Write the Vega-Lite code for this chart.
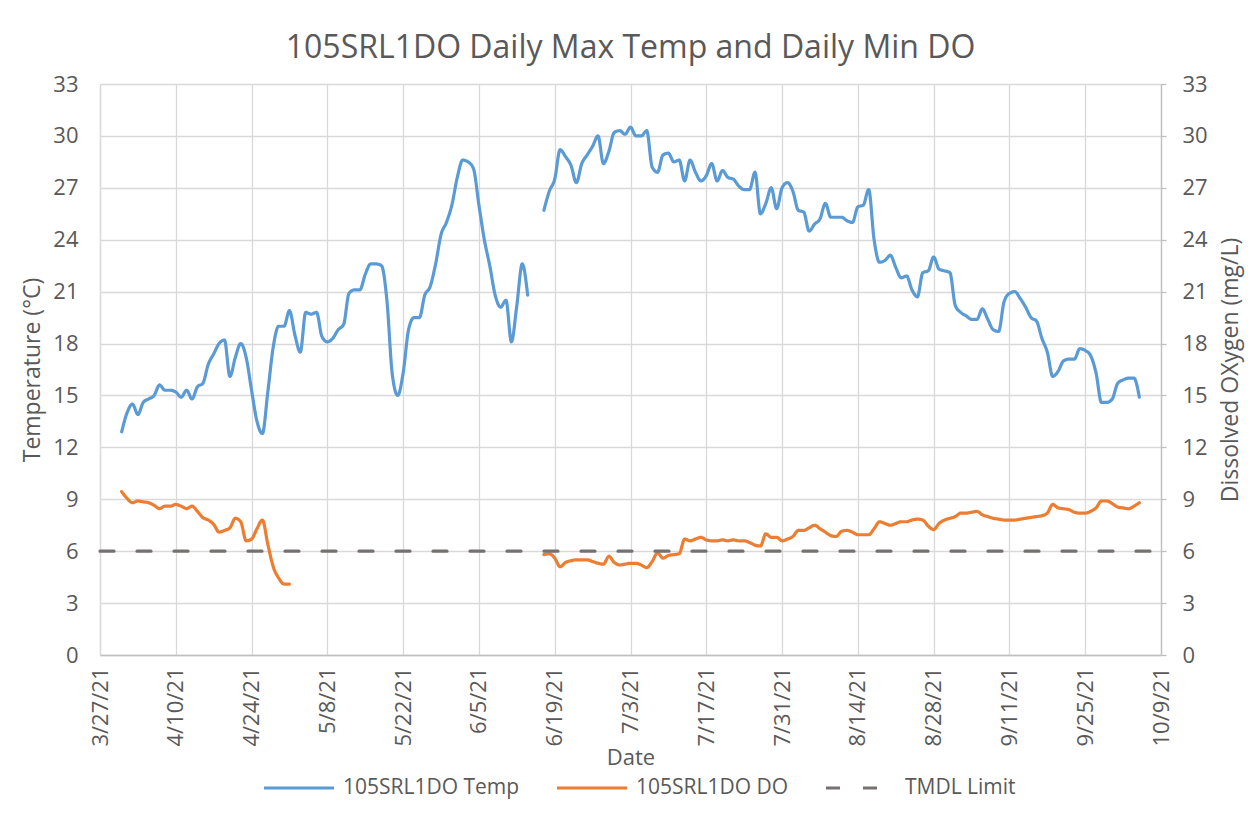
{
  "$schema": "https://vega.github.io/schema/vega-lite/v6.json",
  "width": 1061,
  "height": 571,
  "autosize": {"type": "none"},
  "padding": {"left": 100, "top": 84, "right": 92, "bottom": 161},
  "background": "white",
  "config": {"view": {"stroke": null}, "font": "Open Sans"},
  "title": {"text": "105SRL1DO Daily Max Temp and Daily Min DO", "fontSize": 32, "font": "Open Sans", "fontWeight": "normal", "color": "#595959", "offset": 8, "anchor": "middle"},
  "data": {"values": [
    {"date":"2021-03-31","series":"105SRL1DO Temp","value":12.9},
    {"date":"2021-04-01","series":"105SRL1DO Temp","value":14.0},
    {"date":"2021-04-02","series":"105SRL1DO Temp","value":14.5},
    {"date":"2021-04-03","series":"105SRL1DO Temp","value":13.9},
    {"date":"2021-04-04","series":"105SRL1DO Temp","value":14.6},
    {"date":"2021-04-05","series":"105SRL1DO Temp","value":14.8},
    {"date":"2021-04-06","series":"105SRL1DO Temp","value":15.0},
    {"date":"2021-04-07","series":"105SRL1DO Temp","value":15.6},
    {"date":"2021-04-08","series":"105SRL1DO Temp","value":15.3},
    {"date":"2021-04-09","series":"105SRL1DO Temp","value":15.3},
    {"date":"2021-04-10","series":"105SRL1DO Temp","value":15.2},
    {"date":"2021-04-11","series":"105SRL1DO Temp","value":14.9},
    {"date":"2021-04-12","series":"105SRL1DO Temp","value":15.3},
    {"date":"2021-04-13","series":"105SRL1DO Temp","value":14.8},
    {"date":"2021-04-14","series":"105SRL1DO Temp","value":15.5},
    {"date":"2021-04-15","series":"105SRL1DO Temp","value":15.7},
    {"date":"2021-04-16","series":"105SRL1DO Temp","value":16.8},
    {"date":"2021-04-17","series":"105SRL1DO Temp","value":17.4},
    {"date":"2021-04-18","series":"105SRL1DO Temp","value":18.0},
    {"date":"2021-04-19","series":"105SRL1DO Temp","value":18.2},
    {"date":"2021-04-20","series":"105SRL1DO Temp","value":16.1},
    {"date":"2021-04-21","series":"105SRL1DO Temp","value":17.2},
    {"date":"2021-04-22","series":"105SRL1DO Temp","value":18.0},
    {"date":"2021-04-23","series":"105SRL1DO Temp","value":17.2},
    {"date":"2021-04-24","series":"105SRL1DO Temp","value":15.3},
    {"date":"2021-04-25","series":"105SRL1DO Temp","value":13.5},
    {"date":"2021-04-26","series":"105SRL1DO Temp","value":12.8},
    {"date":"2021-04-27","series":"105SRL1DO Temp","value":15.2},
    {"date":"2021-04-28","series":"105SRL1DO Temp","value":17.8},
    {"date":"2021-04-29","series":"105SRL1DO Temp","value":19.0},
    {"date":"2021-04-30","series":"105SRL1DO Temp","value":19.0},
    {"date":"2021-05-01","series":"105SRL1DO Temp","value":19.9},
    {"date":"2021-05-02","series":"105SRL1DO Temp","value":18.5},
    {"date":"2021-05-03","series":"105SRL1DO Temp","value":17.5},
    {"date":"2021-05-04","series":"105SRL1DO Temp","value":19.8},
    {"date":"2021-05-05","series":"105SRL1DO Temp","value":19.7},
    {"date":"2021-05-06","series":"105SRL1DO Temp","value":19.8},
    {"date":"2021-05-07","series":"105SRL1DO Temp","value":18.4},
    {"date":"2021-05-08","series":"105SRL1DO Temp","value":18.1},
    {"date":"2021-05-09","series":"105SRL1DO Temp","value":18.3},
    {"date":"2021-05-10","series":"105SRL1DO Temp","value":18.8},
    {"date":"2021-05-11","series":"105SRL1DO Temp","value":19.1},
    {"date":"2021-05-12","series":"105SRL1DO Temp","value":20.9},
    {"date":"2021-05-13","series":"105SRL1DO Temp","value":21.1},
    {"date":"2021-05-14","series":"105SRL1DO Temp","value":21.1},
    {"date":"2021-05-15","series":"105SRL1DO Temp","value":22.0},
    {"date":"2021-05-16","series":"105SRL1DO Temp","value":22.6},
    {"date":"2021-05-17","series":"105SRL1DO Temp","value":22.6},
    {"date":"2021-05-18","series":"105SRL1DO Temp","value":22.5},
    {"date":"2021-05-19","series":"105SRL1DO Temp","value":20.5},
    {"date":"2021-05-20","series":"105SRL1DO Temp","value":16.2},
    {"date":"2021-05-21","series":"105SRL1DO Temp","value":15.0},
    {"date":"2021-05-22","series":"105SRL1DO Temp","value":16.3},
    {"date":"2021-05-23","series":"105SRL1DO Temp","value":18.8},
    {"date":"2021-05-24","series":"105SRL1DO Temp","value":19.5},
    {"date":"2021-05-25","series":"105SRL1DO Temp","value":19.5},
    {"date":"2021-05-26","series":"105SRL1DO Temp","value":20.8},
    {"date":"2021-05-27","series":"105SRL1DO Temp","value":21.3},
    {"date":"2021-05-28","series":"105SRL1DO Temp","value":22.6},
    {"date":"2021-05-29","series":"105SRL1DO Temp","value":24.3},
    {"date":"2021-05-30","series":"105SRL1DO Temp","value":25.0},
    {"date":"2021-05-31","series":"105SRL1DO Temp","value":26.0},
    {"date":"2021-06-01","series":"105SRL1DO Temp","value":27.6},
    {"date":"2021-06-02","series":"105SRL1DO Temp","value":28.6},
    {"date":"2021-06-03","series":"105SRL1DO Temp","value":28.5},
    {"date":"2021-06-04","series":"105SRL1DO Temp","value":28.1},
    {"date":"2021-06-05","series":"105SRL1DO Temp","value":26.0},
    {"date":"2021-06-06","series":"105SRL1DO Temp","value":24.0},
    {"date":"2021-06-07","series":"105SRL1DO Temp","value":22.5},
    {"date":"2021-06-08","series":"105SRL1DO Temp","value":20.8},
    {"date":"2021-06-09","series":"105SRL1DO Temp","value":20.1},
    {"date":"2021-06-10","series":"105SRL1DO Temp","value":20.5},
    {"date":"2021-06-11","series":"105SRL1DO Temp","value":18.1},
    {"date":"2021-06-12","series":"105SRL1DO Temp","value":20.2},
    {"date":"2021-06-13","series":"105SRL1DO Temp","value":22.6},
    {"date":"2021-06-14","series":"105SRL1DO Temp","value":20.8},
    {"date":"2021-06-15","series":"105SRL1DO Temp","value":null},
    {"date":"2021-06-17","series":"105SRL1DO Temp","value":25.7},
    {"date":"2021-06-18","series":"105SRL1DO Temp","value":26.8},
    {"date":"2021-06-19","series":"105SRL1DO Temp","value":27.5},
    {"date":"2021-06-20","series":"105SRL1DO Temp","value":29.2},
    {"date":"2021-06-21","series":"105SRL1DO Temp","value":28.8},
    {"date":"2021-06-22","series":"105SRL1DO Temp","value":28.3},
    {"date":"2021-06-23","series":"105SRL1DO Temp","value":27.3},
    {"date":"2021-06-24","series":"105SRL1DO Temp","value":28.4},
    {"date":"2021-06-25","series":"105SRL1DO Temp","value":28.9},
    {"date":"2021-06-26","series":"105SRL1DO Temp","value":29.4},
    {"date":"2021-06-27","series":"105SRL1DO Temp","value":30.0},
    {"date":"2021-06-28","series":"105SRL1DO Temp","value":28.4},
    {"date":"2021-06-29","series":"105SRL1DO Temp","value":29.1},
    {"date":"2021-06-30","series":"105SRL1DO Temp","value":30.2},
    {"date":"2021-07-01","series":"105SRL1DO Temp","value":30.3},
    {"date":"2021-07-02","series":"105SRL1DO Temp","value":30.1},
    {"date":"2021-07-03","series":"105SRL1DO Temp","value":30.5},
    {"date":"2021-07-04","series":"105SRL1DO Temp","value":30.0},
    {"date":"2021-07-05","series":"105SRL1DO Temp","value":30.0},
    {"date":"2021-07-06","series":"105SRL1DO Temp","value":30.3},
    {"date":"2021-07-07","series":"105SRL1DO Temp","value":28.2},
    {"date":"2021-07-08","series":"105SRL1DO Temp","value":27.9},
    {"date":"2021-07-09","series":"105SRL1DO Temp","value":28.9},
    {"date":"2021-07-10","series":"105SRL1DO Temp","value":29.0},
    {"date":"2021-07-11","series":"105SRL1DO Temp","value":28.5},
    {"date":"2021-07-12","series":"105SRL1DO Temp","value":28.6},
    {"date":"2021-07-13","series":"105SRL1DO Temp","value":27.4},
    {"date":"2021-07-14","series":"105SRL1DO Temp","value":28.6},
    {"date":"2021-07-15","series":"105SRL1DO Temp","value":27.9},
    {"date":"2021-07-16","series":"105SRL1DO Temp","value":27.4},
    {"date":"2021-07-17","series":"105SRL1DO Temp","value":27.7},
    {"date":"2021-07-18","series":"105SRL1DO Temp","value":28.4},
    {"date":"2021-07-19","series":"105SRL1DO Temp","value":27.4},
    {"date":"2021-07-20","series":"105SRL1DO Temp","value":28.0},
    {"date":"2021-07-21","series":"105SRL1DO Temp","value":27.6},
    {"date":"2021-07-22","series":"105SRL1DO Temp","value":27.5},
    {"date":"2021-07-23","series":"105SRL1DO Temp","value":27.1},
    {"date":"2021-07-24","series":"105SRL1DO Temp","value":26.9},
    {"date":"2021-07-25","series":"105SRL1DO Temp","value":26.9},
    {"date":"2021-07-26","series":"105SRL1DO Temp","value":27.9},
    {"date":"2021-07-27","series":"105SRL1DO Temp","value":25.5},
    {"date":"2021-07-28","series":"105SRL1DO Temp","value":26.1},
    {"date":"2021-07-29","series":"105SRL1DO Temp","value":27.0},
    {"date":"2021-07-30","series":"105SRL1DO Temp","value":25.8},
    {"date":"2021-07-31","series":"105SRL1DO Temp","value":27.0},
    {"date":"2021-08-01","series":"105SRL1DO Temp","value":27.3},
    {"date":"2021-08-02","series":"105SRL1DO Temp","value":26.8},
    {"date":"2021-08-03","series":"105SRL1DO Temp","value":25.7},
    {"date":"2021-08-04","series":"105SRL1DO Temp","value":25.6},
    {"date":"2021-08-05","series":"105SRL1DO Temp","value":24.5},
    {"date":"2021-08-06","series":"105SRL1DO Temp","value":24.9},
    {"date":"2021-08-07","series":"105SRL1DO Temp","value":25.2},
    {"date":"2021-08-08","series":"105SRL1DO Temp","value":26.1},
    {"date":"2021-08-09","series":"105SRL1DO Temp","value":25.3},
    {"date":"2021-08-10","series":"105SRL1DO Temp","value":25.3},
    {"date":"2021-08-11","series":"105SRL1DO Temp","value":25.3},
    {"date":"2021-08-12","series":"105SRL1DO Temp","value":25.1},
    {"date":"2021-08-13","series":"105SRL1DO Temp","value":25.0},
    {"date":"2021-08-14","series":"105SRL1DO Temp","value":25.9},
    {"date":"2021-08-15","series":"105SRL1DO Temp","value":26.0},
    {"date":"2021-08-16","series":"105SRL1DO Temp","value":26.9},
    {"date":"2021-08-17","series":"105SRL1DO Temp","value":24.0},
    {"date":"2021-08-18","series":"105SRL1DO Temp","value":22.7},
    {"date":"2021-08-19","series":"105SRL1DO Temp","value":22.8},
    {"date":"2021-08-20","series":"105SRL1DO Temp","value":23.1},
    {"date":"2021-08-21","series":"105SRL1DO Temp","value":22.4},
    {"date":"2021-08-22","series":"105SRL1DO Temp","value":21.8},
    {"date":"2021-08-23","series":"105SRL1DO Temp","value":21.9},
    {"date":"2021-08-24","series":"105SRL1DO Temp","value":21.1},
    {"date":"2021-08-25","series":"105SRL1DO Temp","value":20.7},
    {"date":"2021-08-26","series":"105SRL1DO Temp","value":22.1},
    {"date":"2021-08-27","series":"105SRL1DO Temp","value":22.2},
    {"date":"2021-08-28","series":"105SRL1DO Temp","value":23.0},
    {"date":"2021-08-29","series":"105SRL1DO Temp","value":22.3},
    {"date":"2021-08-30","series":"105SRL1DO Temp","value":22.2},
    {"date":"2021-08-31","series":"105SRL1DO Temp","value":22.1},
    {"date":"2021-09-01","series":"105SRL1DO Temp","value":20.2},
    {"date":"2021-09-02","series":"105SRL1DO Temp","value":19.8},
    {"date":"2021-09-03","series":"105SRL1DO Temp","value":19.6},
    {"date":"2021-09-04","series":"105SRL1DO Temp","value":19.4},
    {"date":"2021-09-05","series":"105SRL1DO Temp","value":19.4},
    {"date":"2021-09-06","series":"105SRL1DO Temp","value":20.0},
    {"date":"2021-09-07","series":"105SRL1DO Temp","value":19.4},
    {"date":"2021-09-08","series":"105SRL1DO Temp","value":18.8},
    {"date":"2021-09-09","series":"105SRL1DO Temp","value":18.7},
    {"date":"2021-09-10","series":"105SRL1DO Temp","value":20.4},
    {"date":"2021-09-11","series":"105SRL1DO Temp","value":20.9},
    {"date":"2021-09-12","series":"105SRL1DO Temp","value":21.0},
    {"date":"2021-09-13","series":"105SRL1DO Temp","value":20.6},
    {"date":"2021-09-14","series":"105SRL1DO Temp","value":20.1},
    {"date":"2021-09-15","series":"105SRL1DO Temp","value":19.5},
    {"date":"2021-09-16","series":"105SRL1DO Temp","value":19.3},
    {"date":"2021-09-17","series":"105SRL1DO Temp","value":18.3},
    {"date":"2021-09-18","series":"105SRL1DO Temp","value":17.5},
    {"date":"2021-09-19","series":"105SRL1DO Temp","value":16.1},
    {"date":"2021-09-20","series":"105SRL1DO Temp","value":16.4},
    {"date":"2021-09-21","series":"105SRL1DO Temp","value":17.0},
    {"date":"2021-09-22","series":"105SRL1DO Temp","value":17.1},
    {"date":"2021-09-23","series":"105SRL1DO Temp","value":17.1},
    {"date":"2021-09-24","series":"105SRL1DO Temp","value":17.7},
    {"date":"2021-09-25","series":"105SRL1DO Temp","value":17.6},
    {"date":"2021-09-26","series":"105SRL1DO Temp","value":17.3},
    {"date":"2021-09-27","series":"105SRL1DO Temp","value":16.3},
    {"date":"2021-09-28","series":"105SRL1DO Temp","value":14.6},
    {"date":"2021-09-29","series":"105SRL1DO Temp","value":14.6},
    {"date":"2021-09-30","series":"105SRL1DO Temp","value":14.8},
    {"date":"2021-10-01","series":"105SRL1DO Temp","value":15.7},
    {"date":"2021-10-02","series":"105SRL1DO Temp","value":15.9},
    {"date":"2021-10-03","series":"105SRL1DO Temp","value":16.0},
    {"date":"2021-10-04","series":"105SRL1DO Temp","value":16.0},
    {"date":"2021-10-05","series":"105SRL1DO Temp","value":14.9},
    {"date":"2021-03-31","series":"105SRL1DO DO","value":9.44},
    {"date":"2021-04-01","series":"105SRL1DO DO","value":9.05},
    {"date":"2021-04-02","series":"105SRL1DO DO","value":8.8},
    {"date":"2021-04-03","series":"105SRL1DO DO","value":8.9},
    {"date":"2021-04-04","series":"105SRL1DO DO","value":8.85},
    {"date":"2021-04-05","series":"105SRL1DO DO","value":8.8},
    {"date":"2021-04-06","series":"105SRL1DO DO","value":8.65},
    {"date":"2021-04-07","series":"105SRL1DO DO","value":8.46},
    {"date":"2021-04-08","series":"105SRL1DO DO","value":8.6},
    {"date":"2021-04-09","series":"105SRL1DO DO","value":8.6},
    {"date":"2021-04-10","series":"105SRL1DO DO","value":8.7},
    {"date":"2021-04-11","series":"105SRL1DO DO","value":8.6},
    {"date":"2021-04-12","series":"105SRL1DO DO","value":8.46},
    {"date":"2021-04-13","series":"105SRL1DO DO","value":8.6},
    {"date":"2021-04-14","series":"105SRL1DO DO","value":8.3},
    {"date":"2021-04-15","series":"105SRL1DO DO","value":7.94},
    {"date":"2021-04-16","series":"105SRL1DO DO","value":7.8},
    {"date":"2021-04-17","series":"105SRL1DO DO","value":7.55},
    {"date":"2021-04-18","series":"105SRL1DO DO","value":7.1},
    {"date":"2021-04-19","series":"105SRL1DO DO","value":7.2},
    {"date":"2021-04-20","series":"105SRL1DO DO","value":7.35},
    {"date":"2021-04-21","series":"105SRL1DO DO","value":7.9},
    {"date":"2021-04-22","series":"105SRL1DO DO","value":7.7},
    {"date":"2021-04-23","series":"105SRL1DO DO","value":6.6},
    {"date":"2021-04-24","series":"105SRL1DO DO","value":6.7},
    {"date":"2021-04-25","series":"105SRL1DO DO","value":7.3},
    {"date":"2021-04-26","series":"105SRL1DO DO","value":7.8},
    {"date":"2021-04-27","series":"105SRL1DO DO","value":6.4},
    {"date":"2021-04-28","series":"105SRL1DO DO","value":5.1},
    {"date":"2021-04-29","series":"105SRL1DO DO","value":4.45},
    {"date":"2021-04-30","series":"105SRL1DO DO","value":4.1},
    {"date":"2021-05-01","series":"105SRL1DO DO","value":4.1},
    {"date":"2021-05-02","series":"105SRL1DO DO","value":null},
    {"date":"2021-06-17","series":"105SRL1DO DO","value":5.8},
    {"date":"2021-06-18","series":"105SRL1DO DO","value":5.85},
    {"date":"2021-06-19","series":"105SRL1DO DO","value":5.6},
    {"date":"2021-06-20","series":"105SRL1DO DO","value":5.1},
    {"date":"2021-06-21","series":"105SRL1DO DO","value":5.35},
    {"date":"2021-06-22","series":"105SRL1DO DO","value":5.45},
    {"date":"2021-06-23","series":"105SRL1DO DO","value":5.5},
    {"date":"2021-06-24","series":"105SRL1DO DO","value":5.5},
    {"date":"2021-06-25","series":"105SRL1DO DO","value":5.5},
    {"date":"2021-06-26","series":"105SRL1DO DO","value":5.4},
    {"date":"2021-06-27","series":"105SRL1DO DO","value":5.3},
    {"date":"2021-06-28","series":"105SRL1DO DO","value":5.25},
    {"date":"2021-06-29","series":"105SRL1DO DO","value":5.7},
    {"date":"2021-06-30","series":"105SRL1DO DO","value":5.35},
    {"date":"2021-07-01","series":"105SRL1DO DO","value":5.2},
    {"date":"2021-07-02","series":"105SRL1DO DO","value":5.25},
    {"date":"2021-07-03","series":"105SRL1DO DO","value":5.3},
    {"date":"2021-07-04","series":"105SRL1DO DO","value":5.3},
    {"date":"2021-07-05","series":"105SRL1DO DO","value":5.2},
    {"date":"2021-07-06","series":"105SRL1DO DO","value":5.05},
    {"date":"2021-07-07","series":"105SRL1DO DO","value":5.4},
    {"date":"2021-07-08","series":"105SRL1DO DO","value":5.9},
    {"date":"2021-07-09","series":"105SRL1DO DO","value":5.6},
    {"date":"2021-07-10","series":"105SRL1DO DO","value":5.75},
    {"date":"2021-07-11","series":"105SRL1DO DO","value":5.8},
    {"date":"2021-07-12","series":"105SRL1DO DO","value":5.85},
    {"date":"2021-07-13","series":"105SRL1DO DO","value":6.7},
    {"date":"2021-07-14","series":"105SRL1DO DO","value":6.6},
    {"date":"2021-07-15","series":"105SRL1DO DO","value":6.7},
    {"date":"2021-07-16","series":"105SRL1DO DO","value":6.8},
    {"date":"2021-07-17","series":"105SRL1DO DO","value":6.65},
    {"date":"2021-07-18","series":"105SRL1DO DO","value":6.6},
    {"date":"2021-07-19","series":"105SRL1DO DO","value":6.6},
    {"date":"2021-07-20","series":"105SRL1DO DO","value":6.65},
    {"date":"2021-07-21","series":"105SRL1DO DO","value":6.6},
    {"date":"2021-07-22","series":"105SRL1DO DO","value":6.65},
    {"date":"2021-07-23","series":"105SRL1DO DO","value":6.6},
    {"date":"2021-07-24","series":"105SRL1DO DO","value":6.6},
    {"date":"2021-07-25","series":"105SRL1DO DO","value":6.5},
    {"date":"2021-07-26","series":"105SRL1DO DO","value":6.35},
    {"date":"2021-07-27","series":"105SRL1DO DO","value":6.3},
    {"date":"2021-07-28","series":"105SRL1DO DO","value":7.0},
    {"date":"2021-07-29","series":"105SRL1DO DO","value":6.8},
    {"date":"2021-07-30","series":"105SRL1DO DO","value":6.8},
    {"date":"2021-07-31","series":"105SRL1DO DO","value":6.6},
    {"date":"2021-08-01","series":"105SRL1DO DO","value":6.7},
    {"date":"2021-08-02","series":"105SRL1DO DO","value":6.85},
    {"date":"2021-08-03","series":"105SRL1DO DO","value":7.2},
    {"date":"2021-08-04","series":"105SRL1DO DO","value":7.2},
    {"date":"2021-08-05","series":"105SRL1DO DO","value":7.35},
    {"date":"2021-08-06","series":"105SRL1DO DO","value":7.5},
    {"date":"2021-08-07","series":"105SRL1DO DO","value":7.3},
    {"date":"2021-08-08","series":"105SRL1DO DO","value":7.1},
    {"date":"2021-08-09","series":"105SRL1DO DO","value":6.9},
    {"date":"2021-08-10","series":"105SRL1DO DO","value":6.85},
    {"date":"2021-08-11","series":"105SRL1DO DO","value":7.15},
    {"date":"2021-08-12","series":"105SRL1DO DO","value":7.2},
    {"date":"2021-08-13","series":"105SRL1DO DO","value":7.1},
    {"date":"2021-08-14","series":"105SRL1DO DO","value":6.95},
    {"date":"2021-08-15","series":"105SRL1DO DO","value":6.95},
    {"date":"2021-08-16","series":"105SRL1DO DO","value":6.95},
    {"date":"2021-08-17","series":"105SRL1DO DO","value":7.3},
    {"date":"2021-08-18","series":"105SRL1DO DO","value":7.7},
    {"date":"2021-08-19","series":"105SRL1DO DO","value":7.6},
    {"date":"2021-08-20","series":"105SRL1DO DO","value":7.5},
    {"date":"2021-08-21","series":"105SRL1DO DO","value":7.6},
    {"date":"2021-08-22","series":"105SRL1DO DO","value":7.7},
    {"date":"2021-08-23","series":"105SRL1DO DO","value":7.7},
    {"date":"2021-08-24","series":"105SRL1DO DO","value":7.8},
    {"date":"2021-08-25","series":"105SRL1DO DO","value":7.85},
    {"date":"2021-08-26","series":"105SRL1DO DO","value":7.8},
    {"date":"2021-08-27","series":"105SRL1DO DO","value":7.45},
    {"date":"2021-08-28","series":"105SRL1DO DO","value":7.25},
    {"date":"2021-08-29","series":"105SRL1DO DO","value":7.6},
    {"date":"2021-08-30","series":"105SRL1DO DO","value":7.8},
    {"date":"2021-08-31","series":"105SRL1DO DO","value":7.9},
    {"date":"2021-09-01","series":"105SRL1DO DO","value":8.0},
    {"date":"2021-09-02","series":"105SRL1DO DO","value":8.2},
    {"date":"2021-09-03","series":"105SRL1DO DO","value":8.2},
    {"date":"2021-09-04","series":"105SRL1DO DO","value":8.25},
    {"date":"2021-09-05","series":"105SRL1DO DO","value":8.3},
    {"date":"2021-09-06","series":"105SRL1DO DO","value":8.1},
    {"date":"2021-09-07","series":"105SRL1DO DO","value":8.0},
    {"date":"2021-09-08","series":"105SRL1DO DO","value":7.9},
    {"date":"2021-09-09","series":"105SRL1DO DO","value":7.85},
    {"date":"2021-09-10","series":"105SRL1DO DO","value":7.8},
    {"date":"2021-09-11","series":"105SRL1DO DO","value":7.8},
    {"date":"2021-09-12","series":"105SRL1DO DO","value":7.8},
    {"date":"2021-09-13","series":"105SRL1DO DO","value":7.85},
    {"date":"2021-09-14","series":"105SRL1DO DO","value":7.9},
    {"date":"2021-09-15","series":"105SRL1DO DO","value":7.95},
    {"date":"2021-09-16","series":"105SRL1DO DO","value":8.0},
    {"date":"2021-09-17","series":"105SRL1DO DO","value":8.05},
    {"date":"2021-09-18","series":"105SRL1DO DO","value":8.2},
    {"date":"2021-09-19","series":"105SRL1DO DO","value":8.7},
    {"date":"2021-09-20","series":"105SRL1DO DO","value":8.5},
    {"date":"2021-09-21","series":"105SRL1DO DO","value":8.45},
    {"date":"2021-09-22","series":"105SRL1DO DO","value":8.4},
    {"date":"2021-09-23","series":"105SRL1DO DO","value":8.25},
    {"date":"2021-09-24","series":"105SRL1DO DO","value":8.2},
    {"date":"2021-09-25","series":"105SRL1DO DO","value":8.2},
    {"date":"2021-09-26","series":"105SRL1DO DO","value":8.3},
    {"date":"2021-09-27","series":"105SRL1DO DO","value":8.5},
    {"date":"2021-09-28","series":"105SRL1DO DO","value":8.9},
    {"date":"2021-09-29","series":"105SRL1DO DO","value":8.9},
    {"date":"2021-09-30","series":"105SRL1DO DO","value":8.75},
    {"date":"2021-10-01","series":"105SRL1DO DO","value":8.55},
    {"date":"2021-10-02","series":"105SRL1DO DO","value":8.5},
    {"date":"2021-10-03","series":"105SRL1DO DO","value":8.45},
    {"date":"2021-10-04","series":"105SRL1DO DO","value":8.6},
    {"date":"2021-10-05","series":"105SRL1DO DO","value":8.8},
    {"date":"2021-03-27","series":"TMDL Limit","value":6},
    {"date":"2021-10-09","series":"TMDL Limit","value":6}
  ]},
  "layer": [
    {
      "mark": {"type": "line", "interpolate": "monotone", "invalid": "break-paths-show-domains", "strokeCap": "round"},
      "encoding": {
        "x": {
          "field": "date", "type": "temporal",
          "scale": {"type": "utc", "domain": [{"year": 2021, "month": 3, "date": 27, "utc": true}, {"year": 2021, "month": 10, "date": 9, "utc": true}]},
          "axis": {
            "title": "Date", "titleFont": "Open Sans", "titleFontSize": 22, "titleFontWeight": "normal", "titleColor": "#595959", "titlePadding": 1,
            "values": [
              {"year": 2021, "month": 3, "date": 27, "utc": true},
              {"year": 2021, "month": 4, "date": 10, "utc": true},
              {"year": 2021, "month": 4, "date": 24, "utc": true},
              {"year": 2021, "month": 5, "date": 8, "utc": true},
              {"year": 2021, "month": 5, "date": 22, "utc": true},
              {"year": 2021, "month": 6, "date": 5, "utc": true},
              {"year": 2021, "month": 6, "date": 19, "utc": true},
              {"year": 2021, "month": 7, "date": 3, "utc": true},
              {"year": 2021, "month": 7, "date": 17, "utc": true},
              {"year": 2021, "month": 7, "date": 31, "utc": true},
              {"year": 2021, "month": 8, "date": 14, "utc": true},
              {"year": 2021, "month": 8, "date": 28, "utc": true},
              {"year": 2021, "month": 9, "date": 11, "utc": true},
              {"year": 2021, "month": 9, "date": 25, "utc": true},
              {"year": 2021, "month": 10, "date": 9, "utc": true}
            ],
            "format": "%-m/%-d/%y", "labelAngle": 270, "labelFont": "Open Sans", "labelFontSize": 22, "labelColor": "#595959", "labelPadding": 12,
            "labelFlush": false, "labelOverlap": false, "labelBound": false,
            "ticks": false, "grid": true, "gridColor": "#D9D9D9", "gridWidth": 1.3, "domainColor": "#BFBFBF", "domainWidth": 1.3
          }
        },
        "y": {
          "field": "value", "type": "quantitative",
          "scale": {"domain": [0, 33], "nice": false},
          "axis": {
            "title": "Temperature (°C)", "titleFont": "Open Sans", "titleFontSize": 23, "titleFontWeight": "normal", "titleColor": "#595959", "titlePadding": 8,
            "values": [0, 3, 6, 9, 12, 15, 18, 21, 24, 27, 30, 33],
            "labelFont": "Open Sans", "labelFontSize": 22, "labelColor": "#595959", "labelPadding": 22,
            "ticks": false, "grid": true, "gridColor": "#D9D9D9", "gridWidth": 1.3, "domainColor": "#D9D9D9", "domainWidth": 1.3
          }
        },
        "color": {
          "field": "series", "type": "nominal",
          "scale": {"domain": ["105SRL1DO Temp", "105SRL1DO DO", "TMDL Limit"], "range": ["#5B9BD5", "#ED7D31", "#767171"]},
          "legend": {
            "title": null, "orient": "none", "legendX": 162, "legendY": 667, "direction": "horizontal",
            "symbolType": "stroke", "symbolSize": 4900, "labelFont": "Open Sans", "labelFontSize": 21, "labelColor": "#595959",
            "labelOffset": 7, "columnPadding": 30, "labelLimit": 400
          }
        },
        "strokeDash": {
          "field": "series", "type": "nominal",
          "scale": {"domain": ["105SRL1DO Temp", "105SRL1DO DO", "TMDL Limit"], "range": [[1, 0], [1, 0], [14, 23]]}
        },
        "strokeWidth": {
          "field": "series", "type": "nominal",
          "scale": {"domain": ["105SRL1DO Temp", "105SRL1DO DO", "TMDL Limit"], "range": [3.2, 3.2, 4.8]}
        }
      }
    },
    {
      "transform": [{"filter": "datum.series === 'TMDL Limit'"}],
      "mark": {"type": "line", "opacity": 0},
      "encoding": {
        "x": {"field": "date", "type": "temporal"},
        "y": {
          "field": "value", "type": "quantitative",
          "scale": {"domain": [0, 33], "nice": false},
          "axis": {
            "orient": "right", "title": "Dissolved OXygen (mg/L)", "titleAngle": 270, "titleBaseline": "top", "titleFont": "Open Sans", "titleFontSize": 23, "titleFontWeight": "normal", "titleColor": "#595959", "titlePadding": 12,
            "values": [0, 3, 6, 9, 12, 15, 18, 21, 24, 27, 30, 33],
            "labelFont": "Open Sans", "labelFontSize": 22, "labelColor": "#595959", "labelPadding": 16,
            "ticks": true, "tickSize": 5, "tickColor": "#BFBFBF", "tickWidth": 1.3, "grid": false, "domainColor": "#BFBFBF", "domainWidth": 1.3
          }
        }
      }
    }
  ],
  "resolve": {"scale": {"y": "independent"}}
}
